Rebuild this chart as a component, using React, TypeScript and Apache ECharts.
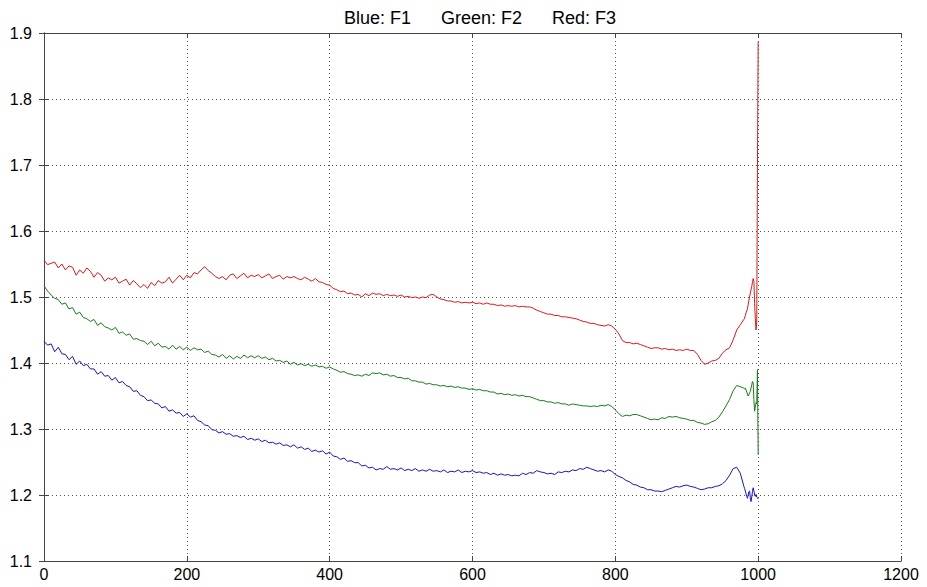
import React, { useEffect, useRef } from "react";
import * as echarts from "echarts";

// Samples 0..980 are stored every STEP units; the last stretch (981..1000) is stored per unit.
const STEP = 5;
const TAIL_X = [981, 982, 983, 984, 985, 986, 987, 988, 989, 990, 991, 992, 993, 994, 995, 996, 997, 998, 999, 1000];

const X_TICKS = [0, 200, 400, 600, 800, 1000, 1200];
const Y_TICKS = [1.1, 1.2, 1.3, 1.4, 1.5, 1.6, 1.7, 1.8, 1.9];

// F1 (blue)
const f1Main = [
  1.433, 1.427, 1.429, 1.417, 1.424, 1.414, 1.413, 1.405, 1.410, 1.398,
  1.403, 1.396, 1.398, 1.391, 1.391, 1.383, 1.387, 1.380, 1.381, 1.374,
  1.378, 1.370, 1.372, 1.366, 1.364, 1.357, 1.358, 1.351, 1.349, 1.343,
  1.344, 1.339, 1.338, 1.332, 1.334, 1.327, 1.329, 1.324, 1.325, 1.319,
  1.323, 1.318, 1.320, 1.313, 1.311, 1.306, 1.305, 1.299, 1.298, 1.294,
  1.296, 1.292, 1.293, 1.289, 1.290, 1.287, 1.289, 1.284, 1.286, 1.283,
  1.285, 1.281, 1.283, 1.279, 1.280, 1.277, 1.279, 1.275, 1.276, 1.273,
  1.276, 1.271, 1.273, 1.269, 1.271, 1.266, 1.268, 1.265, 1.267, 1.262,
  1.265, 1.259, 1.258, 1.254, 1.256, 1.251, 1.252, 1.249, 1.249, 1.244,
  1.245, 1.241, 1.242, 1.238, 1.240, 1.239, 1.243, 1.239, 1.240, 1.238,
  1.241, 1.237, 1.239, 1.237, 1.240, 1.236, 1.238, 1.236, 1.239, 1.236,
  1.237, 1.235, 1.238, 1.234, 1.236, 1.235, 1.238, 1.234, 1.236, 1.235,
  1.237, 1.234, 1.235, 1.233, 1.234, 1.231, 1.233, 1.230, 1.232, 1.230,
  1.231, 1.229, 1.230, 1.229, 1.233, 1.231, 1.234, 1.233, 1.237, 1.235,
  1.234, 1.232, 1.233, 1.231, 1.235, 1.234, 1.236, 1.235, 1.238, 1.237,
  1.240, 1.239, 1.242, 1.240, 1.238, 1.236, 1.237, 1.235, 1.238, 1.236,
  1.231, 1.228, 1.226, 1.222, 1.220, 1.216, 1.215, 1.212, 1.211, 1.208,
  1.208, 1.206, 1.206, 1.205, 1.207, 1.209, 1.211, 1.213, 1.212, 1.214,
  1.215, 1.213, 1.212, 1.210, 1.208, 1.209, 1.211, 1.211, 1.213, 1.214,
  1.217, 1.222, 1.230, 1.240, 1.242, 1.233, 1.213,
];
const f1Tail = [
  1.210, 1.206, 1.202, 1.198, 1.195, 1.200, 1.205, 1.206, 1.196, 1.190,
  1.197, 1.205, 1.211, 1.206, 1.200, 1.198, 1.201, 1.197, 1.196, 1.194,
];

// F2 (green)
const f2Main = [
  1.517, 1.509, 1.503, 1.498, 1.496, 1.489, 1.491, 1.482, 1.484, 1.474,
  1.477, 1.469, 1.467, 1.463, 1.466, 1.457, 1.461, 1.455, 1.453, 1.450,
  1.454, 1.445, 1.447, 1.442, 1.444, 1.436, 1.437, 1.434, 1.433, 1.428,
  1.433, 1.426, 1.430, 1.424, 1.425, 1.421, 1.427, 1.421, 1.425, 1.420,
  1.424, 1.419, 1.423, 1.420, 1.421, 1.416, 1.418, 1.413, 1.412, 1.409,
  1.413, 1.407, 1.411, 1.406, 1.410, 1.407, 1.412, 1.408, 1.411, 1.408,
  1.411, 1.407, 1.409, 1.405, 1.407, 1.403, 1.404, 1.401, 1.403, 1.398,
  1.401, 1.397, 1.399, 1.396, 1.398, 1.395, 1.397, 1.394, 1.395, 1.392,
  1.394, 1.391, 1.389, 1.386, 1.387, 1.384, 1.383, 1.381, 1.382, 1.380,
  1.383, 1.381, 1.385, 1.384, 1.385, 1.382, 1.383, 1.380, 1.381, 1.378,
  1.378, 1.376, 1.377, 1.373, 1.373, 1.371, 1.371, 1.368, 1.369, 1.367,
  1.367, 1.365, 1.366, 1.364, 1.365, 1.363, 1.364, 1.362, 1.362, 1.360,
  1.361, 1.359, 1.360, 1.358, 1.358, 1.356, 1.356, 1.353, 1.354, 1.352,
  1.353, 1.351, 1.352, 1.350, 1.351, 1.349, 1.349, 1.347, 1.345, 1.343,
  1.343, 1.341, 1.341, 1.339, 1.340, 1.338, 1.338, 1.336, 1.338, 1.337,
  1.336, 1.335, 1.335, 1.334, 1.335, 1.334, 1.336, 1.335, 1.337, 1.334,
  1.329, 1.323, 1.319, 1.321, 1.320, 1.322, 1.322, 1.320, 1.318, 1.316,
  1.314, 1.315, 1.314, 1.317, 1.316, 1.319, 1.318, 1.319, 1.317, 1.316,
  1.315, 1.313, 1.313, 1.310, 1.309, 1.307, 1.308, 1.311, 1.313, 1.318,
  1.326, 1.335, 1.345, 1.358, 1.366, 1.364, 1.362,
];
const f2Tail = [
  1.361, 1.362, 1.359, 1.356, 1.353, 1.350, 1.352, 1.355, 1.357, 1.362,
  1.367, 1.372, 1.370, 1.345, 1.327, 1.333, 1.340, 1.338, 1.390, 1.261,
];

// F3 (red)
const f3Main = [
  1.556, 1.549, 1.551, 1.553, 1.544, 1.550, 1.541, 1.547, 1.545, 1.533,
  1.541, 1.536, 1.544, 1.539, 1.530, 1.537, 1.533, 1.524, 1.529, 1.526,
  1.530, 1.521, 1.524, 1.527, 1.518, 1.525, 1.520, 1.514, 1.519, 1.513,
  1.522, 1.517, 1.525, 1.521, 1.523, 1.530, 1.521, 1.527, 1.533, 1.526,
  1.533, 1.529, 1.537, 1.535, 1.541, 1.546, 1.540, 1.536, 1.531, 1.528,
  1.531, 1.526, 1.533, 1.535, 1.528, 1.532, 1.536, 1.529, 1.533, 1.531,
  1.534, 1.529, 1.532, 1.535, 1.528, 1.531, 1.533, 1.527, 1.531, 1.529,
  1.531, 1.528, 1.526, 1.530, 1.527, 1.524, 1.528, 1.523, 1.522, 1.519,
  1.518, 1.513, 1.511, 1.508, 1.509, 1.505, 1.506, 1.503, 1.504, 1.500,
  1.505, 1.502, 1.506, 1.504, 1.505, 1.502, 1.504, 1.502, 1.503, 1.501,
  1.503, 1.500, 1.501, 1.499, 1.500, 1.498, 1.500, 1.499, 1.503, 1.504,
  1.500, 1.497, 1.496, 1.494, 1.494, 1.492, 1.493, 1.491, 1.492, 1.491,
  1.492, 1.490, 1.491, 1.489, 1.491, 1.489, 1.489, 1.487, 1.488, 1.486,
  1.487, 1.486, 1.487, 1.485, 1.486, 1.485, 1.485, 1.483, 1.480, 1.478,
  1.476, 1.474, 1.474, 1.472, 1.472, 1.470, 1.470, 1.469, 1.468, 1.467,
  1.465, 1.463, 1.462, 1.460, 1.460, 1.458, 1.457, 1.456, 1.458, 1.456,
  1.451, 1.444, 1.434, 1.431, 1.431, 1.429, 1.430, 1.428, 1.426, 1.424,
  1.422, 1.423, 1.423, 1.421, 1.422, 1.420, 1.421, 1.419, 1.420, 1.419,
  1.421, 1.419, 1.419, 1.413, 1.404, 1.398, 1.400, 1.403, 1.404, 1.407,
  1.415, 1.420, 1.423, 1.435, 1.450, 1.458, 1.466,
];
const f3Tail = [
  1.468, 1.472, 1.476, 1.479, 1.482, 1.488, 1.495, 1.500, 1.506, 1.511,
  1.516, 1.522, 1.528, 1.524, 1.490, 1.468, 1.450, 1.462, 1.693, 1.887,
];

const TITLE = "Blue: F1      Green: F2      Red: F3";
const FONT = "'Liberation Sans', Arial, sans-serif";

function toPairs(main: number[], tail: number[]): [number, number][] {
  const pts: [number, number][] = main.map((v, i) => [i * STEP, v]);
  tail.forEach((v, i) => pts.push([TAIL_X[i], v]));
  return pts;
}

export default function App() {
  const ref = useRef<HTMLDivElement>(null);

  useEffect(() => {
    if (!ref.current) return;
    const chart = echarts.init(ref.current, undefined, { renderer: "svg" });
    const axisLine = { show: true, lineStyle: { color: "#444", width: 1 } };
    const tick = { show: true, inside: true, length: 5, lineStyle: { color: "#444" } };
    const split = { show: true, lineStyle: { color: "#555", type: [1, 3] as any, width: 1 } };
    const label = { color: "#000", fontSize: 16, fontFamily: FONT };

    chart.setOption({
      animation: false,
      backgroundColor: "#fff",
      title: {
        text: TITLE,
        left: 475,
        textAlign: "center",
        top: 4,
        textStyle: { fontSize: 18, fontWeight: "normal", color: "#000", fontFamily: FONT },
      },
      grid: { left: 44, right: 26, top: 33, bottom: 26, containLabel: false },
      xAxis: [
        {
          type: "value",
          min: X_TICKS[0],
          max: X_TICKS[X_TICKS.length - 1],
          interval: X_TICKS[1] - X_TICKS[0],
          axisLine,
          axisTick: tick,
          splitLine: split,
          axisLabel: { ...label, margin: 5, formatter: (v: number) => String(v) },
        },
        {
          type: "value",
          position: "top",
          min: X_TICKS[0],
          max: X_TICKS[X_TICKS.length - 1],
          interval: X_TICKS[1] - X_TICKS[0],
          axisLine,
          axisTick: tick,
          splitLine: { show: false },
          axisLabel: { show: false },
        },
      ],
      yAxis: [
        {
          type: "value",
          min: Y_TICKS[0],
          max: Y_TICKS[Y_TICKS.length - 1],
          interval: 0.1,
          axisLine,
          axisTick: tick,
          splitLine: split,
          axisLabel: { ...label, margin: 12, formatter: (v: number) => v.toFixed(1) },
        },
        {
          type: "value",
          position: "right",
          min: Y_TICKS[0],
          max: Y_TICKS[Y_TICKS.length - 1],
          interval: 0.1,
          axisLine,
          axisTick: tick,
          splitLine: { show: false },
          axisLabel: { show: false },
        },
      ],
      series: [
        {
          name: "F1",
          type: "line",
          data: toPairs(f1Main, f1Tail),
          showSymbol: false,
          lineStyle: { color: "#1414c8", width: 1 },
        },
        {
          name: "F2",
          type: "line",
          data: toPairs(f2Main, f2Tail),
          showSymbol: false,
          lineStyle: { color: "#1a7a1a", width: 1 },
        },
        {
          name: "F3",
          type: "line",
          data: toPairs(f3Main, f3Tail),
          showSymbol: false,
          lineStyle: { color: "#e01818", width: 1 },
        },
      ],
    });
    return () => chart.dispose();
  }, []);

  return <div ref={ref} style={{ width: 927, height: 587, position: "fixed", left: 0, top: 0 }} />;
}
